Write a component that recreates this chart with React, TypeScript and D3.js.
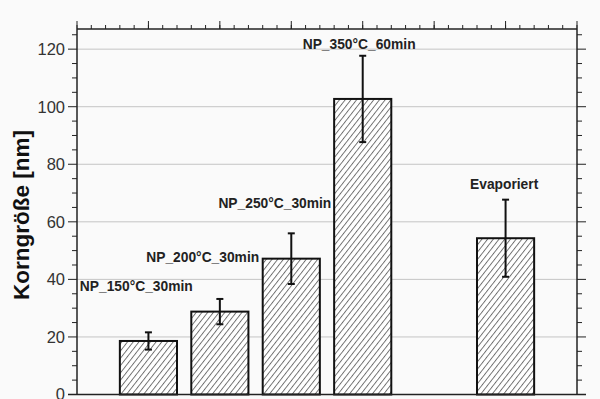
import React from "react";
import * as d3 from "d3";

// Sample groups and their mean grain size with standard deviation
const categories = ["NP_150°C_30min", "NP_200°C_30min", "NP_250°C_30min", "NP_350°C_60min", "Evaporiert"];
const positions = [1, 2, 3, 4, 6];
const means = [18.6, 28.8, 47.2, 102.7, 54.3];
const errors = [3.0, 4.4, 8.8, 15.0, 13.4];

// Label anchor points in data units
const labelX = [0.04, 2.55, 3.56, 3.95, 5.98];
const labelY = [36.0, 45.9, 64.8, 120.0, 71.4];
const labelAnchor = ["start", "end", "end", "middle", "middle"];

const yTicks = [0, 20, 40, 60, 80, 100, 120];
const yTitle = "Korngröße [nm]";

const W = 600;
const H = 399;
const left = 77;
const right = 577;
const top = 29;
const bottom = 394.5;

export default function App() {
  const x = d3.scaleLinear().domain([0, 7]).range([left, right]);
  const y = d3.scaleLinear().domain([0, 127]).range([bottom, top]);
  const barW = x(0.8) - x(0);

  const minorY = d3.range(0, 127, 5);
  const topMinor = d3.range(0, 7.0001, 0.2);
  const topMajor = d3.range(0, 8, 1);

  return (
    <svg
      width={W}
      height={H}
      style={{ position: "fixed", left: 0, top: 0, display: "block" }}
      fontFamily="'Liberation Sans', Arial, sans-serif"
    >
      <defs>
        <pattern id="hatch" patternUnits="userSpaceOnUse" width={4.5} height={6} patternTransform="rotate(38)">
          <rect width={4.5} height={6} fill="#ffffff" />
          <line x1={0.5} y1={0} x2={0.5} y2={6} stroke="#555" strokeWidth={0.85} />
        </pattern>
      </defs>
      <rect width={W} height={H} fill="#fafafa" />

      {/* horizontal grid */}
      {yTicks.filter((t) => t > 0).map((t) => (
        <line key={"g" + t} x1={left} x2={right} y1={y(t)} y2={y(t)} stroke="#c4c4c4" strokeWidth={1} />
      ))}

      {/* bars */}
      {means.map((m, i) => (
        <rect
          key={"b" + i}
          x={x(positions[i]) - barW / 2}
          y={y(m)}
          width={barW}
          height={y(0) - y(m)}
          fill="url(#hatch)"
          stroke="#111"
          strokeWidth={2}
        />
      ))}

      {/* error bars */}
      {means.map((m, i) => {
        const cx = x(positions[i]);
        const y1 = y(m + errors[i]);
        const y2 = y(m - errors[i]);
        return (
          <g key={"e" + i} stroke="#111" strokeWidth={2}>
            <line x1={cx} x2={cx} y1={y1} y2={y2} />
            <line x1={cx - 3.5} x2={cx + 3.5} y1={y1} y2={y1} />
            <line x1={cx - 3.5} x2={cx + 3.5} y1={y2} y2={y2} />
          </g>
        );
      })}

      {/* frame */}
      <g stroke="#222" strokeWidth={1.5} fill="none">
        <line x1={left} x2={right} y1={top} y2={top} />
        <line x1={left} x2={left} y1={top} y2={bottom} />
        <line x1={right} x2={right} y1={top} y2={bottom} />
        <line x1={left - 9} x2={right + 9} y1={bottom} y2={bottom} />
      </g>

      {/* left and right ticks */}
      {minorY.map((t) => {
        const major = t % 20 === 0;
        const len = major ? 9 : 5;
        return (
          <g key={"yt" + t} stroke="#222" strokeWidth={1}>
            <line x1={left - len} x2={left} y1={y(t)} y2={y(t)} />
            <line x1={right} x2={right + len} y1={y(t)} y2={y(t)} />
          </g>
        );
      })}

      {/* top ticks */}
      {topMinor.map((t, i) => (
        <line key={"tm" + i} x1={x(t)} x2={x(t)} y1={top} y2={top - 4} stroke="#222" strokeWidth={1} />
      ))}
      {topMajor.map((t) => (
        <line key={"tM" + t} x1={x(t)} x2={x(t)} y1={top} y2={top - 8} stroke="#222" strokeWidth={1} />
      ))}

      {/* y tick labels */}
      {yTicks.map((t) => (
        <text key={"yl" + t} x={65} y={y(t)} dy="0.36em" textAnchor="end" fontSize={16.5} fill="#333">
          {t}
        </text>
      ))}

      {/* y axis title */}
      <text
        transform="translate(29,215) rotate(-90)"
        textAnchor="middle"
        fontSize={22.5}
        fontWeight="bold"
        fill="#111"
      >
        {yTitle}
      </text>

      {/* category labels */}
      {categories.map((c, i) => (
        <text
          key={"l" + i}
          x={x(labelX[i])}
          y={y(labelY[i])}
          textAnchor={labelAnchor[i]}
          fontSize={13.8}
          fontWeight="bold"
          fill="#222"
        >
          {c}
        </text>
      ))}
    </svg>
  );
}
